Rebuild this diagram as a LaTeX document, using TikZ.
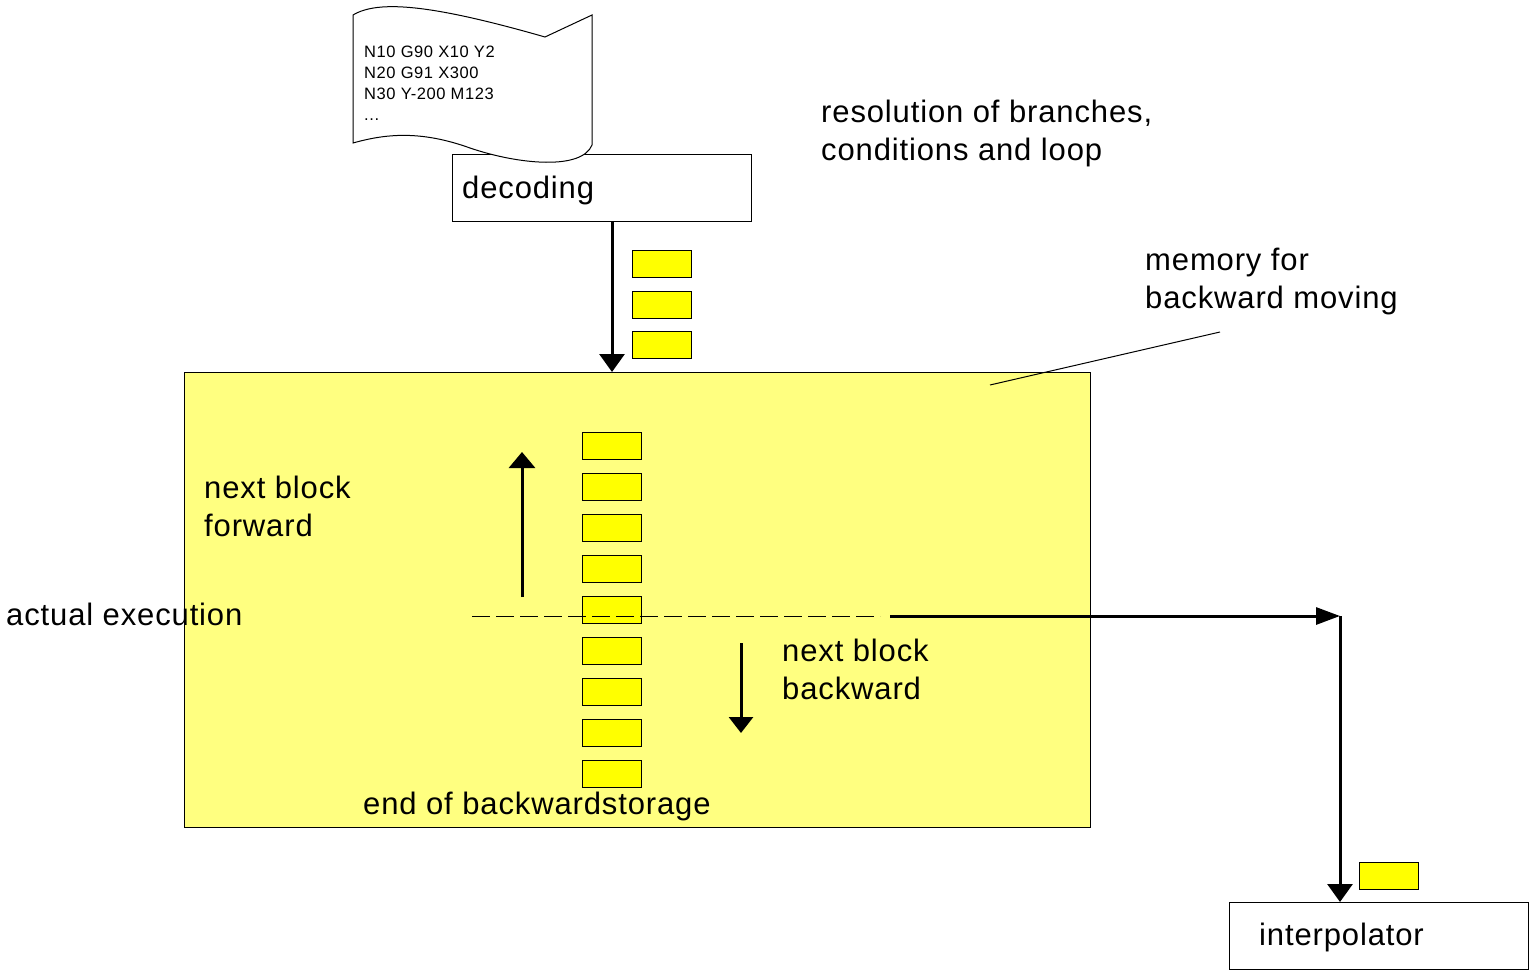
\documentclass[tikz,border=0pt]{standalone}
\usepackage{fontspec}
\setmainfont{Liberation Sans}
\newfontfamily\lblfont[LetterSpace=2.8]{Liberation Sans}
\newfontfamily\codefont[LetterSpace=3.5]{Liberation Sans}
\usetikzlibrary{arrows.meta}
\definecolor{lightyel}{RGB}{255,255,128}
\definecolor{yel}{RGB}{255,255,0}
\begin{document}
\begin{tikzpicture}[x=1pt,y=-1pt,
  box/.style={draw=black, line width=1pt, fill=white, inner sep=0pt, anchor=north west},
  chip/.style={draw=black, line width=1pt, fill=yel, inner sep=0pt, anchor=north west, minimum width=59pt, minimum height=27pt},
  big/.style={font=\lblfont\fontsize{31}{38}\selectfont, inner sep=0pt, align=left, anchor=west},
  small/.style={font=\codefont\fontsize{16.5}{21}\selectfont, inner sep=0pt, align=left, anchor=west},
  flow/.style={line width=3pt, -{Triangle[length=18pt,width=25pt]}},
  flowh/.style={line width=3pt, -{Triangle[length=24pt,width=17pt]}},
  thin/.style={line width=1pt},
]
\useasboundingbox (0,0) rectangle (1535,974);
% memory
\node[draw=black, line width=1pt, fill=lightyel, inner sep=0pt, anchor=north west,
      minimum width=906pt, minimum height=455pt] (mem) at (184,372) {};
\foreach \i in {0,...,8} {
  \node[chip] (s\i) at (582,{432+41*\i}) {};
}
\coordinate (d1) at (472,616);
\coordinate (d2) at (880,616);
\draw[thin, dash pattern=on 18pt off 6pt] (d1) -- (d2);
% arrows inside
\coordinate (fa1) at (522,597);
\coordinate (fa2) at (522,452);
\draw[line width=3pt, -{Triangle[length=16pt,width=26pt]}] (fa1) -- (fa2);
\coordinate (ba1) at (741,643);
\coordinate (ba2) at (741,733);
\draw[line width=3pt, -{Triangle[length=16pt,width=24pt]}] (ba1) -- (ba2);
% labels
\node[big] (lfw) at (204,506) {next block\\forward};
\node[big] (lae) at (6,614) {actual execution};
\node[big] (lbw) at (782,669) {next block\\backward};
\node[big] (leb) at (363,806) {end of backwardstorage};
\node[big] (lres) at (821,133) {resolution of branches,\\conditions and loop};
\node[big] (lmem) at (1145,281) {memory for\\backward moving};
\coordinate (mp1) at (990,385);
\coordinate (mp2) at (1220,332);
\draw[thin] (mp1) -- (mp2);
% decoding
\node[box, minimum width=299pt, minimum height=67pt] (dec) at (452,154) {};
\node[big] (ldec) at (462,190) {decoding};
\node[chip] (c1) at (632,250) {};
\node[chip] (c2) at (632,291) {};
\node[chip] (c3) at (632,331) {};
\coordinate (dtop) at (612,221);
\draw[flow] (dtop) -- (dtop |- mem.north);
% document
\draw[thin, fill=white] (353,143) -- (353,15)
  .. controls (378,0) and (430,4) .. (545,37) -- (592,15) -- (592,145)
  .. controls (582,170) and (520,165) .. (470,148)
  .. controls (420,130) and (385,134) .. (353,143) -- cycle;
\node[small] (code) at (364,83) {N10 G90 X10 Y2\\N20 G91 X300\\N30 Y-200 M123\\...};
% interpolator
\node[box, minimum width=299pt, minimum height=67pt] (ip) at (1229,902) {};
\node[big] (lip) at (1259,937) {interpolator};
\node[chip] (c4) at (1359,862) {};
\coordinate (h1) at (890,616);
\coordinate (h2) at (1340,616);
\draw[flowh] (h1) -- (h2);
\draw[flow] (h2) -- (h2 |- ip.north);
\end{tikzpicture}
\end{document}
